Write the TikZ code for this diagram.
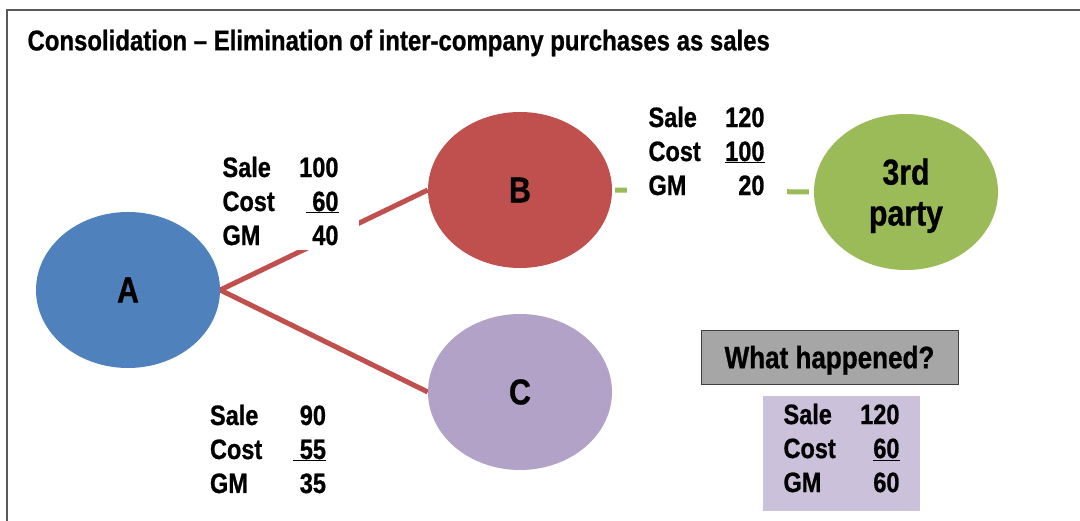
\documentclass[tikz,border=0pt]{standalone}
\usepackage{fontspec}
\setmainfont[FakeStretch=0.84, BoldFeatures={FakeBold=0.8}]{Liberation Sans}
\usetikzlibrary{shapes.geometric,positioning}

\definecolor{firmblue}{HTML}{4F81BD}
\definecolor{firmred}{HTML}{C0504D}
\definecolor{firmpurple}{HTML}{B3A2C7}
\definecolor{firmgreen}{HTML}{9BBB59}
\definecolor{notelilac}{HTML}{CCC1DA}
\definecolor{askgray}{HTML}{A6A6A6}
\definecolor{framegray}{HTML}{595959}

\pgfdeclarelayer{back}
\pgfsetlayers{back,main}

\newcommand{\acrow}[2]{\makebox[66pt][l]{#1}\makebox[50pt][r]{#2}}

\begin{document}
\begin{tikzpicture}[x=1pt,y=-1pt]
		\tikzstyle{firm}=[ellipse, minimum width = 184pt, minimum height = 156pt, inner sep = 0pt, font = \fontsize{36}{41}\selectfont\bfseries]
		\tikzstyle{sold}=[line width = 5pt, draw = firmred]
		\tikzstyle{resold}=[line width = 5pt, draw = firmgreen, shorten <= 3pt, shorten >= 5pt]
		\tikzstyle{acct}=[align = left, inner ysep = 5pt, font = \fontsize{28}{34}\selectfont\bfseries]
		\useasboundingbox (0,0) rectangle (1080,521);
		\draw[line width = 2.5pt, framegray] (7,530) -- (7,10) -- (1090,10);
		
		\node[anchor = west, font = \fontsize{28.5}{34}\selectfont\bfseries] (title) at (24,43) {Consolidation – Elimination of inter-company purchases as sales};
		
		% figures first, so the firms sit on top of their white boxes
		\node[acct, fill = white, inner xsep = 20pt] (AB) at (280.5,201) {\acrow{Sale}{100}\\\acrow{Cost}{\underline{\ 60}}\\\acrow{GM}{40}};
		\node[acct, fill = white, inner xsep = 22pt] (Bthird) at (706.5,151) {\acrow{Sale}{120}\\\acrow{Cost}{\underline{100}}\\\acrow{GM}{20}};
		\node[acct] (AC) at (268,449) {\acrow{Sale}{90}\\\acrow{Cost}{\underline{\ 55}}\\\acrow{GM}{35}};
		
		\node[firm, fill = firmblue] (A) at (128,290) {A};
		\node[firm, fill = firmred] (B) at (520,190) {B};
		\node[firm, fill = firmpurple] (C) at (520,392) {C};
		\node[firm, fill = firmgreen, align = center, text depth = 0pt] (third) at (906,192) {3rd\\party};
		
		\begin{pgfonlayer}{back}
		\path (A.east) edge [sold] (B.west);
		\path (A.east) edge [sold] (C.west);
		\path (B.east) edge [resold] (third.west);
		\end{pgfonlayer}
		
		\node[draw = black!75, fill = askgray, minimum width = 257pt, minimum height = 54pt, text depth = 0pt, font = \fontsize{31}{36}\selectfont\bfseries] (ask) at (829.5,357) {What happened?};
		\node[acct, fill = notelilac, minimum width = 157pt, minimum height = 115pt, text depth = 12pt] (group) [below = 12pt of ask, xshift = 12pt] {\acrow{Sale}{120}\\\acrow{Cost}{\underline{60}}\\\acrow{GM}{60}};

	\end{tikzpicture}
\end{document}
